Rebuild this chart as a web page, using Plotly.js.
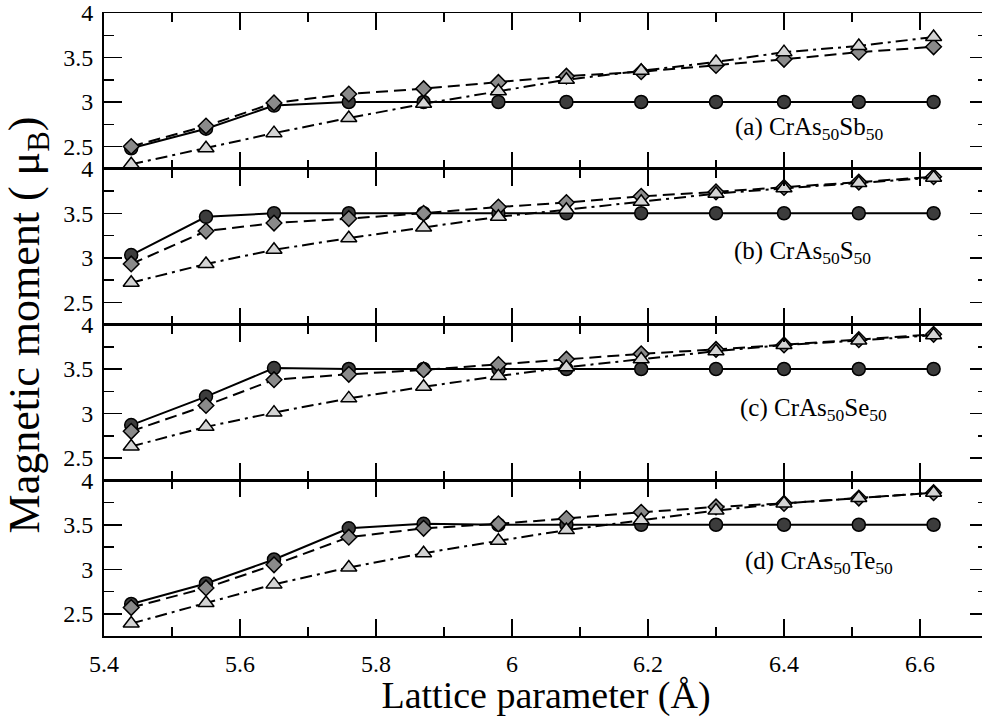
<!DOCTYPE html>
<html>
<head>
<meta charset="utf-8">
<script src="https://cdn.plot.ly/plotly-3.0.1.min.js"></script>
<style>
html, body { margin: 0; padding: 0; overflow: hidden; background: #fff; }
#chart { width: 990px; height: 717px; }
</style>
</head>
<body>
<div id="chart"></div>
<script>
// Lattice parameter (Å)
const latticeX = [5.44, 5.55, 5.65, 5.76, 5.87, 5.98, 6.08, 6.19, 6.30, 6.40, 6.51, 6.62];

// (a) CrAs50Sb50
const aCircle  = [2.48, 2.70, 2.96, 3.00, 3.00, 3.00, 3.00, 3.00, 3.00, 3.00, 3.00, 3.00];
const aDiamond = [2.50, 2.73, 2.99, 3.09, 3.15, 3.22, 3.29, 3.34, 3.41, 3.48, 3.56, 3.62];
const aTriangle= [2.30, 2.48, 2.65, 2.82, 2.98, 3.12, 3.25, 3.35, 3.45, 3.56, 3.63, 3.73];

// (b) CrAs50S50
const bCircle  = [3.03, 3.46, 3.50, 3.50, 3.50, 3.50, 3.50, 3.50, 3.50, 3.50, 3.50, 3.50];
const bDiamond = [2.93, 3.30, 3.39, 3.44, 3.50, 3.57, 3.62, 3.69, 3.74, 3.79, 3.85, 3.91];
const bTriangle= [2.72, 2.93, 3.09, 3.22, 3.34, 3.46, 3.54, 3.63, 3.72, 3.78, 3.84, 3.90];

// (c) CrAs50Se50
const cCircle  = [2.87, 3.19, 3.51, 3.50, 3.50, 3.50, 3.50, 3.50, 3.50, 3.50, 3.50, 3.50];
const cDiamond = [2.80, 3.09, 3.38, 3.44, 3.49, 3.55, 3.61, 3.67, 3.72, 3.77, 3.83, 3.89];
const cTriangle= [2.63, 2.85, 3.01, 3.17, 3.30, 3.42, 3.52, 3.61, 3.70, 3.77, 3.82, 3.88];

// (d) CrAs50Te50
const dCircle  = [2.61, 2.84, 3.11, 3.46, 3.51, 3.50, 3.50, 3.50, 3.50, 3.50, 3.50, 3.50];
const dDiamond = [2.57, 2.79, 3.05, 3.36, 3.46, 3.51, 3.57, 3.64, 3.70, 3.74, 3.80, 3.86];
const dTriangle= [2.39, 2.62, 2.83, 3.02, 3.18, 3.32, 3.44, 3.55, 3.66, 3.74, 3.80, 3.86];

const panelLabels = [
  "(a) CrAs<sub>50</sub>Sb<sub>50</sub>",
  "(b) CrAs<sub>50</sub>S<sub>50</sub>",
  "(c) CrAs<sub>50</sub>Se<sub>50</sub>",
  "(d) CrAs<sub>50</sub>Te<sub>50</sub>"
];
const yTickVals = [2.5, 3, 3.5, 4];
const yTickText = ["2.5", "3", "3.5", "4"];
const xTickVals = [5.4, 5.6, 5.8, 6.0, 6.2, 6.4, 6.6];
const xTickText = ["5.4", "5.6", "5.8", "6", "6.2", "6.4", "6.6"];

const panels = [
  [aCircle, aDiamond, aTriangle],
  [bCircle, bDiamond, bTriangle],
  [cCircle, cDiamond, cTriangle],
  [dCircle, dDiamond, dTriangle]
];

const styles = [
  {symbol: 'circle', size: 13, color: '#3c3c3c', dash: 'solid'},
  {symbol: 'diamond', size: 12, color: '#8a8a8a', dash: '12px,6px'},
  {symbol: 'triangle-up', size: 14, color: '#d4d4d4', dash: '12px,5px,3px,5px'}
];

const font = '"Liberation Serif", "Times New Roman", "DejaVu Serif", serif';
const traces = [];
panels.forEach((series, p) => {
  const sfx = p === 0 ? '' : String(p + 1);
  series.forEach((yv, s) => {
    const st = styles[s];
    traces.push({
      x: latticeX, y: yv, xaxis: 'x' + sfx, yaxis: 'y' + sfx,
      mode: 'lines+markers', showlegend: false, hoverinfo: 'skip',
      line: {color: '#000', width: 2, dash: st.dash},
      marker: {symbol: st.symbol, size: st.size, color: st.color,
               line: {color: '#000', width: 1.5}}
    });
  });
});

const layout = {
  width: 990, height: 717,
  margin: {l: 104, r: 2, t: 13, b: 81},
  paper_bgcolor: '#fff', plot_bgcolor: '#fff',
  font: {family: font, color: '#000', size: 24},
  annotations: [],
  showlegend: false
};

const xlefts = [6.325, 6.324, 6.332, 6.34];
const ylab = [2.70, 3.06, 3.05, 3.08];
for (let p = 0; p < 4; p++) {
  const sfx = p === 0 ? '' : String(p + 1);
  const top = 1 - p * 0.25, bot = 1 - (p + 1) * 0.25;
  const xa = {
    domain: [0, 1], anchor: 'y' + sfx, range: [5.4, 6.7],
    tickmode: 'array', tickvals: xTickVals, ticktext: xTickText,
    ticks: 'inside', ticklen: 17, tickwidth: 1.5, tickcolor: '#000',
    minor: {dtick: 0.1, tick0: 5.4, ticks: 'inside', ticklen: 9, tickwidth: 1.5, tickcolor: '#000'},
    showline: true, linewidth: 1.5, linecolor: '#000', mirror: 'ticks',
    showgrid: false, zeroline: false,
    showticklabels: p === 3,
    tickfont: {family: font, size: 24, color: '#000'},
    ticklabelstandoff: 6
  };
  if (p === 3) {
    xa.title = {text: 'Lattice parameter (Å)', font: {family: font, size: 38, color: '#000'}, standoff: 11};
  }
  const ya = {
    domain: [bot, top], anchor: 'x' + sfx, range: [2.25, 4],
    tickmode: 'array', tickvals: yTickVals, ticktext: yTickText,
    ticks: 'inside', ticklen: 18, tickwidth: 1.5, tickcolor: '#000',
    minor: {tickvals: [2.75, 3.25, 3.75], ticks: 'inside', ticklen: 10, tickwidth: 1.5, tickcolor: '#000'},
    showline: true, linewidth: 2, linecolor: '#000', mirror: 'ticks',
    showgrid: false, zeroline: false,
    tickfont: {family: font, size: 24, color: '#000'},
    ticklabelstandoff: 4
  };
  layout['xaxis' + sfx] = xa;
  layout['yaxis' + sfx] = ya;
  layout.annotations.push({
    text: panelLabels[p], xref: 'x' + sfx, yref: 'y' + sfx,
    x: xlefts[p], y: ylab[p], xanchor: 'left', yanchor: 'middle',
    showarrow: false, font: {family: font, size: 25, color: '#000'}
  });
}
layout.annotations.push({
  text: 'Magnetic moment ( μ<sub>B</sub>)', xref: 'paper', yref: 'paper',
  x: -0.086, y: 0.5, xanchor: 'center', yanchor: 'middle', textangle: -90,
  showarrow: false, font: {family: font, size: 44, color: '#000'}
});

Plotly.newPlot('chart', traces, layout, {staticPlot: true, displayModeBar: false});
</script>
</body>
</html>
